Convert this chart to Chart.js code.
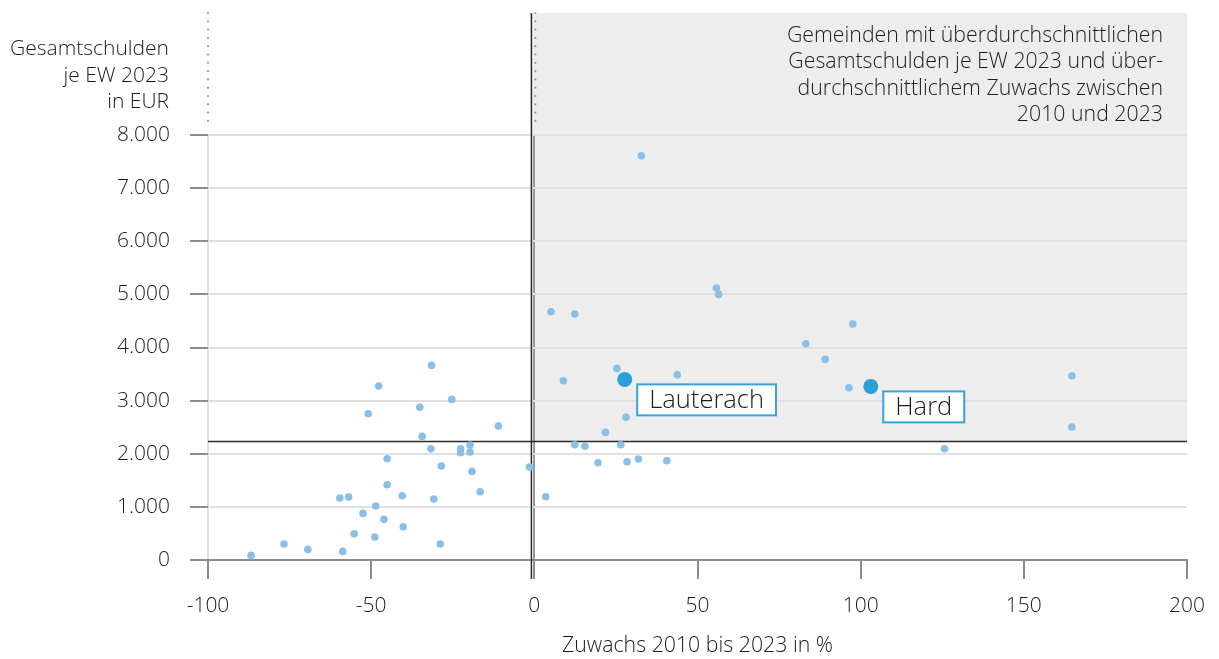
<!DOCTYPE html>
<html lang="de">
<head>
<meta charset="utf-8">
<title>Gesamtschulden je EW 2023 und Zuwachs 2010 bis 2023</title>
<script src="https://cdn.jsdelivr.net/npm/chart.js@4.4.1/dist/chart.umd.min.js"></script>
<style>
  html, body { margin: 0; padding: 0; background: #fff; }
  canvas { display: block; }
</style>
</head>
<body>
<canvas id="chart" width="1219" height="659"></canvas>
<script>
// ================================
// DATEN
// ================================
const gemeindenZuwachs = [
  -47.7, -25.3, -50.9, -35.1, -11.0, -34.4, -31.7, -22.6, -22.6, -19.7,
  -19.7, -45.1, -28.5, -19.1, -1.5, -45.1, -16.6, -59.6, -56.9, -40.5,
  -30.8, 3.5, -48.6, -52.5, -46.1, -40.2, -55.2, -48.9, -28.8, -76.7,
  -69.4, -58.7, -86.8, -31.5,
  8.9, 12.4, 55.8, 56.5, 5.1, 12.4, 97.6, 83.2, 89.1, 25.3,
  43.8, 96.4, 28.1, 21.8, 15.5, 26.5, 19.5, 28.4, 31.9, 40.6,
  32.8, 164.7, 164.7, 125.7
];
const gemeindenSchulden = [
  3275, 3023, 2754, 2873, 2522, 2327, 2095, 2095, 2020, 2165,
  2033, 1907, 1769, 1668, 1751, 1417, 1286, 1167, 1186, 1210,
  1148, 1192, 1016, 877, 765, 627, 495, 433, 301, 301,
  200, 162, 87, 3663,
  3375, 2170, 5120, 5000, 4674, 4630, 4442, 4072, 3776, 3607,
  3488, 3243, 2685, 2402, 2139, 2170, 1831, 1850, 1901, 1869,
  7610, 3469, 2504, 2095
];

const markiertNamen = ["Lauterach", "Hard"];
const markiertZuwachs = [27.7, 103.1];
const markiertSchulden = [3400, 3268];

// Durchschnittswerte (Trennlinien)
const mittelZuwachs = -0.9;
const mittelSchulden = 2232;

const xTicks = [-100, -50, 0, 50, 100, 150, 200];
const yTicks = [0, 1000, 2000, 3000, 4000, 5000, 6000, 7000, 8000];

const yTitel = ["Gesamtschulden", "je EW 2023", "in EUR"];
const xTitel = "Zuwachs 2010 bis 2023 in %";
const quadrantText = [
  "Gemeinden mit überdurchschnittlichen",
  "Gesamtschulden je EW 2023 und über-",
  "durchschnittlichem Zuwachs zwischen",
  "2010 und 2023"
];

// ================================
// STIL
// ================================
const schrift = "'Open Sans', 'Segoe UI', sans-serif";
const textFarbe = "#1c1c1c";
const hellBlau = "#8bc0e6";
const blau = "#2ba0d6";
const gitterFarbe = "#e0e0e0";
const achsenFarbe = "#8c8c8c";
const OBEN = 122; // Verlängerung der Fläche über 8.000 hinaus

const tausender = (v) => String(v).replace(/\B(?=(\d{3})+(?!\d))/g, ".");

const dekor = {
  id: "dekor",
  beforeDraw(chart) {
    const { ctx, chartArea, scales } = chart;
    const x0 = scales.x.getPixelForValue(mittelZuwachs);
    const y0 = scales.y.getPixelForValue(mittelSchulden);
    ctx.save();
    ctx.fillStyle = "#ededed";
    ctx.fillRect(x0, chartArea.top - OBEN, chartArea.right - x0, y0 - chartArea.top + OBEN);

    ctx.fillStyle = textFarbe;
    ctx.font = "300 21.3px " + schrift;
    ctx.textAlign = "right";
    ctx.textBaseline = "alphabetic";
    quadrantText.forEach((zeile, i) => {
      ctx.fillText(zeile, chartArea.right - 24, chartArea.top - 93 + i * 26.4);
    });
    ctx.restore();
  },
  beforeDatasetsDraw(chart) {
    const { ctx, chartArea, scales } = chart;
    ctx.save();
    // gepunktete Linien über der Achse
    ctx.strokeStyle = "#9a9a9a";
    ctx.lineWidth = 2.2;
    ctx.lineCap = "round";
    ctx.setLineDash([0, 8.3]);
    [-100, 0].forEach((v) => {
      const px = scales.x.getPixelForValue(v) + (v === 0 ? 1 : 0);
      ctx.beginPath();
      ctx.moveTo(px, chartArea.top - OBEN);
      ctx.lineTo(px, chartArea.top - 7);
      ctx.stroke();
    });
    ctx.setLineDash([]);
    ctx.lineCap = "butt";

    // Durchschnittslinien
    const x0 = scales.x.getPixelForValue(mittelZuwachs);
    const y0 = scales.y.getPixelForValue(mittelSchulden);
    ctx.strokeStyle = "#2b2b2b";
    ctx.lineWidth = 1.5;
    ctx.beginPath();
    ctx.moveTo(chartArea.left, y0);
    ctx.lineTo(chartArea.right, y0);
    ctx.moveTo(x0, chartArea.top - OBEN);
    ctx.lineTo(x0, chartArea.bottom + 19);
    ctx.stroke();
    ctx.restore();
  },
  afterDatasetsDraw(chart) {
    const { ctx, scales } = chart;
    ctx.save();
    ctx.font = "300 25.5px " + schrift;
    markiertNamen.forEach((name, i) => {
      const px = scales.x.getPixelForValue(markiertZuwachs[i]);
      const py = scales.y.getPixelForValue(markiertSchulden[i]);
      const breite = ctx.measureText(name).width + 24;
      const left = px + 12.5;
      const top = py + 5;
      ctx.fillStyle = "#fff";
      ctx.fillRect(left, top, breite, 31);
      ctx.strokeStyle = "#35a3d8";
      ctx.lineWidth = 2;
      ctx.strokeRect(left, top, breite, 31);
      ctx.fillStyle = textFarbe;
      ctx.textAlign = "left";
      ctx.textBaseline = "middle";
      ctx.fillText(name, left + 12, top + 16.5);
    });
    ctx.restore();
  },
  afterDraw(chart) {
    const { ctx, chartArea } = chart;
    ctx.save();
    ctx.fillStyle = textFarbe;
    ctx.font = "300 21px " + schrift;
    ctx.textAlign = "right";
    ctx.textBaseline = "alphabetic";
    yTitel.forEach((zeile, i) => {
      ctx.fillText(zeile, 169, chartArea.top - 80 + i * 26.5);
    });
    ctx.font = "300 21.3px " + schrift;
    ctx.textAlign = "center";
    ctx.fillText(xTitel, (chartArea.left + chartArea.right) / 2, chartArea.bottom + 92);
    ctx.restore();
  }
};

// ================================
// CHART
// ================================
document.addEventListener("DOMContentLoaded", () => {
  new Chart(document.getElementById("chart"), {
    type: "scatter",
    data: {
      datasets: [
        {
          label: "Gemeinden",
          data: gemeindenZuwachs.map((x, i) => ({ x, y: gemeindenSchulden[i] })),
          backgroundColor: hellBlau,
          borderWidth: 0,
          pointRadius: 3.8
        },
        {
          label: "Markiert",
          data: markiertZuwachs.map((x, i) => ({ x, y: markiertSchulden[i] })),
          backgroundColor: blau,
          borderWidth: 0,
          pointRadius: 7.5
        }
      ]
    },
    options: {
      responsive: false,
      animation: false,
      layout: { padding: { top: 135, right: 32, left: 0, bottom: 0 } },
      plugins: { legend: { display: false }, tooltip: { enabled: false } },
      scales: {
        x: {
          type: "linear",
          min: -100,
          max: 200,
          afterBuildTicks: (axis) => { axis.ticks = xTicks.map((v) => ({ value: v })); },
          afterFit: (axis) => { axis.height = 99; },
          grid: {
            drawOnChartArea: true,
            color: (c) => (c.tick && c.tick.value === -100 ? gitterFarbe : c.tick && c.tick.value === 0 ? "#9a9a9a" : "rgba(0,0,0,0)"),
            lineWidth: 2,
            tickColor: achsenFarbe,
            tickWidth: 2,
            tickLength: 19
          },
          border: { color: achsenFarbe, width: 2 },
          ticks: {
            padding: 14,
            color: textFarbe,
            font: { family: schrift, size: 21, weight: 300 },
            maxRotation: 0
          }
        },
        y: {
          type: "linear",
          min: 0,
          max: 8000,
          afterBuildTicks: (axis) => { axis.ticks = yTicks.map((v) => ({ value: v })); },
          afterFit: (axis) => { axis.width = 208; },
          grid: {
            color: gitterFarbe,
            lineWidth: 2,
            tickColor: achsenFarbe,
            tickWidth: 2,
            tickLength: 18
          },
          border: { display: false },
          ticks: {
            padding: 20,
            color: textFarbe,
            font: { family: schrift, size: 21, weight: 300 },
            callback: (v) => tausender(v)
          }
        }
      }
    },
    plugins: [dekor]
  });
});
</script>
</body>
</html>
